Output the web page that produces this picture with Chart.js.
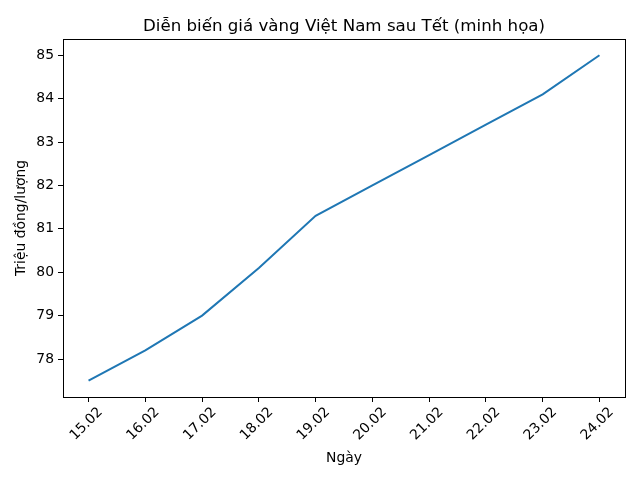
<!DOCTYPE html>
<html>
<head>
<meta charset="utf-8">
<script src="https://cdn.jsdelivr.net/npm/chart.js@4/dist/chart.umd.min.js"></script>
<style>
  html, body { margin: 0; padding: 0; background: #ffffff; }
  #wrap { width: 640px; height: 480px; }
</style>
</head>
<body>
<div id="wrap"><canvas id="chart" width="640" height="480"></canvas></div>
<script>
const days = ["15.02", "16.02", "17.02", "18.02", "19.02", "20.02", "21.02", "22.02", "23.02", "24.02"];
const prices = [77.5, 78.2, 79.0, 80.1, 81.3, 82.0, 82.7, 83.4, 84.1, 85.0];
const priceTicks = [78, 79, 80, 81, 82, 83, 84, 85];
const chartTitle = "Diễn biến giá vàng Việt Nam sau Tết (minh họa)";

const FONT = "'DejaVu Sans', sans-serif";

// matplotlib draws all four spines and centres the title over the axes
const framePlugin = {
  id: "frame",
  afterDraw(chart) {
    const { ctx, chartArea } = chart;
    ctx.save();
    ctx.strokeStyle = "#000000";
    ctx.lineWidth = 1;
    ctx.strokeRect(
      Math.round(chartArea.left) + 0.5,
      Math.round(chartArea.top) + 0.5,
      Math.round(chartArea.right - chartArea.left),
      Math.round(chartArea.bottom - chartArea.top)
    );
    ctx.fillStyle = "#000000";
    ctx.font = `16.67px ${FONT}`;
    ctx.textAlign = "center";
    ctx.textBaseline = "alphabetic";
    ctx.fillText(chartTitle, (chartArea.left + chartArea.right) / 2, 30.5);
    ctx.restore();
  }
};

new Chart(document.getElementById("chart"), {
  type: "line",
  data: {
    datasets: [
      {
        data: prices.map((value, index) => ({ x: index, y: value })),
        borderColor: "#1f77b4",
        borderWidth: 2,
        pointRadius: 0,
        fill: false,
        tension: 0
      }
    ]
  },
  options: {
    responsive: false,
    animation: false,
    layout: {
      padding: { left: 8, right: 15, top: 39, bottom: 0 }
    },
    plugins: {
      legend: { display: false },
      tooltip: { enabled: false },
      title: { display: false }
    },
    scales: {
      x: {
        type: "linear",
        min: -0.45,
        max: 9.45,
        afterBuildTicks(axis) {
          axis.ticks = days.map((_, index) => ({ value: index }));
        },
        afterFit(axis) {
          axis.height = 83;
        },
        ticks: {
          autoSkip: false,
          minRotation: 45,
          maxRotation: 45,
          labelOffset: 12,
          padding: 2,
          color: "#000000",
          font: { family: FONT, size: 13.9 },
          callback(value) {
            return days[value] ?? "";
          }
        },
        grid: {
          drawOnChartArea: false,
          drawTicks: true,
          tickLength: 5,
          color: "#000000"
        },
        border: { color: "#000000" },
        title: {
          display: true,
          text: "Ngày",
          color: "#000000",
          font: { family: FONT, size: 13.9 },
          padding: { top: 0, bottom: 13 }
        }
      },
      y: {
        min: 77.125,
        max: 85.375,
        afterBuildTicks(axis) {
          axis.ticks = priceTicks.map((value) => ({ value }));
        },
        afterFit(axis) {
          axis.width = 55;
        },
        ticks: {
          padding: 4,
          color: "#000000",
          font: { family: FONT, size: 13.9 }
        },
        grid: {
          drawOnChartArea: false,
          drawTicks: true,
          tickLength: 5,
          color: "#000000"
        },
        border: { color: "#000000" },
        title: {
          display: true,
          text: "Triệu đồng/lượng",
          color: "#000000",
          font: { family: FONT, size: 13.9 },
          padding: { top: 5, bottom: 0 }
        }
      }
    }
  },
  plugins: [framePlugin]
});
</script>
</body>
</html>
